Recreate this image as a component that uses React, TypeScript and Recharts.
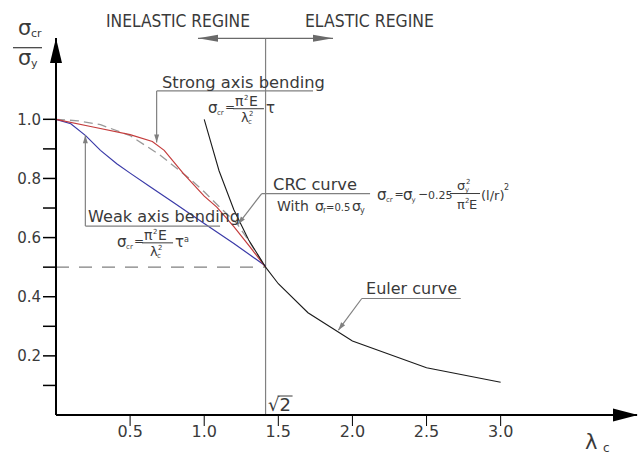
import React from 'react';
import { LineChart, Line, XAxis, YAxis, ReferenceLine, ReferenceDot } from 'recharts';

// normalised slenderness λc on x, σcr/σy on y
const xTicks = [0.5, 1.0, 1.5, 2.0, 2.5, 3.0];
const yTicks = [0.1, 0.2, 0.3, 0.4, 0.5, 0.6, 0.7, 0.8, 0.9, 1.0];

const strongLam = [0, 0.25, 0.5, 0.65, 0.73, 0.86, 1.0, 1.085, 1.2, 1.31, 1.414];
const strongVal = [1.0, 0.974, 0.948, 0.925, 0.895, 0.816, 0.74, 0.703, 0.637, 0.568, 0.5];

const weakLam = [0, 0.1, 0.2, 0.3, 0.41, 0.5, 0.635, 0.8, 1.0, 1.2, 1.414];
const weakVal = [1.0, 0.985, 0.945, 0.895, 0.85, 0.818, 0.772, 0.716, 0.648, 0.58, 0.504];

const crcLam = [0, 0.15, 0.3, 0.5, 0.7, 0.9, 1.0, 1.1, 1.22, 1.3, 1.414];
const crcVal = [1.0, 0.995, 0.982, 0.945, 0.88, 0.8, 0.755, 0.705, 0.648, 0.59, 0.5];

const eulerLam = [1.0, 1.1, 1.2, 1.3, 1.414, 1.5, 1.7, 2.0, 2.5, 3.0];
const eulerVal = [1.0, 0.826, 0.694, 0.592, 0.5, 0.444, 0.346, 0.25, 0.16, 0.111];

const toRows = (xs: number[], ys: number[]) => xs.map((lam, i) => ({ lam, v: ys[i] }));

const FONT = '"DejaVu Sans", sans-serif';
const INK = '#3a3a3a';
const GREY = '#808080';

const T = ({ x, y, s, size = 16, ...rest }: any) => (
    <text x={x} y={y} fontSize={size} fill={INK} fontFamily={FONT} {...rest}>{s}</text>
);

const arrowHead = (x: number, y: number, ang: number, len: number, half: number, fill: string) => {
    const c = Math.cos(ang), s = Math.sin(ang);
    const bx = x - c * len, by = y - s * len;
    return <polygon points={`${x},${y} ${bx - s * half},${by + c * half} ${bx + s * half},${by - c * half}`} fill={fill} />;
};

const leader = (len = 8, half = 2.5, color = GREY) => (p: any) => {
    const ang = Math.atan2(p.y2 - p.y1, p.x2 - p.x1);
    return (
        <g>
            <line x1={p.x1} y1={p.y1} x2={p.x2} y2={p.y2} stroke={color} strokeWidth={1.2} />
            {arrowHead(p.x2, p.y2, ang, len, half, color)}
        </g>
    );
};

const note = (key: string, x: number, y: number, draw: (cx: number, cy: number) => React.ReactNode) => (
    <ReferenceDot key={key} x={x} y={y} r={0} ifOverflow="visible" shape={(p: any) => <g>{draw(p.cx, p.cy)}</g>} />
);

const eulerFormula = (ox: number, oy: number, exp?: string) => (
    <g>
        <T x={ox} y={oy} s="σ" size={15} />
        <T x={ox + 9} y={oy + 2} s="cr" size={7} />
        <T x={ox + 17} y={oy - 2} s="=" size={12} />
        <T x={ox + 27} y={oy - 7} s="π" size={14} />
        <T x={ox + 36} y={oy - 13} s="2" size={7} />
        <T x={ox + 41} y={oy - 7} s="E" size={14} />
        <line x1={ox + 25} x2={ox + 56} y1={oy - 4.5} y2={oy - 4.5} stroke={INK} strokeWidth={1} />
        <T x={ox + 33} y={oy + 9} s="λ" size={13} />
        <T x={ox + 40} y={oy + 11} s="c" size={7} />
        <T x={ox + 41} y={oy + 3} s="2" size={7} />
        <T x={ox + 58} y={oy} s="τ" size={15} />
        {exp && <T x={ox + 67} y={oy - 5} s={exp} size={8} />}
    </g>
);

const crcFormula = (ox: number, oy: number) => (
    <g>
        <T x={ox} y={oy} s="σ" size={15} />
        <T x={ox + 9} y={oy + 2} s="cr" size={7} />
        <T x={ox + 17.5} y={oy - 2} s="=" size={11} />
        <T x={ox + 26} y={oy} s="σ" size={15} />
        <T x={ox + 34.5} y={oy + 2} s="y" size={7} />
        <T x={ox + 41} y={oy - 2} s="−" size={12} />
        <T x={ox + 51} y={oy - 1} s="0.25" size={11} />
        <line x1={ox + 73} x2={ox + 103} y1={oy - 6.7} y2={oy - 6.7} stroke={INK} strokeWidth={1} />
        <T x={ox + 80} y={oy - 10} s="σ" size={13} />
        <T x={ox + 88} y={oy - 8} s="y" size={7} />
        <T x={ox + 89} y={oy - 16} s="2" size={7} />
        <T x={ox + 80} y={oy + 9} s="π" size={13} />
        <T x={ox + 88} y={oy + 3} s="2" size={7} />
        <T x={ox + 92} y={oy + 9} s="E" size={13} />
        <T x={ox + 104} y={oy} s="(l/r)" size={13} />
        <T x={ox + 127} y={oy - 10} s="2" size={8} />
    </g>
);

const ColumnStrengthChart: React.FC = () => {
    return (
        <div style={{ position: 'absolute', left: 0, top: 0, background: '#fff' }}>
            <LineChart width={642} height={456} margin={{ top: 38, right: 5, bottom: 0, left: 0 }}>
                <XAxis
                    dataKey="lam"
                    type="number"
                    domain={[0, 3.92]}
                    ticks={xTicks}
                    interval={0}
                    height={41}
                    axisLine={{ stroke: '#000', strokeWidth: 2 }}
                    tickLine={{ stroke: '#000', strokeWidth: 1 }}
                    tickSize={11}
                    tickMargin={0}
                    tick={{ fontSize: 16, fill: INK, fontFamily: FONT }}
                    tickFormatter={(v: number) => v.toFixed(1)}
                />
                <YAxis
                    type="number"
                    domain={[0, 1.275]}
                    ticks={yTicks}
                    interval={0}
                    width={56}
                    axisLine={{ stroke: '#000', strokeWidth: 2 }}
                    tickLine={{ stroke: '#000', strokeWidth: 1.5 }}
                    tickSize={13}
                    tickMargin={2}
                    tick={{ fontSize: 15, fill: INK, fontFamily: FONT }}
                    tickFormatter={(v: number) => (Math.round(v * 10) % 2 === 0 ? v.toFixed(1) : '')}
                />

                <ReferenceLine x={1.414} stroke={GREY} strokeWidth={1.2} />
                <ReferenceLine segment={[{ x: 0, y: 0.5 }, { x: 1.414, y: 0.5 }]} stroke={GREY} strokeWidth={1.2} strokeDasharray="13 10" />

                <Line data={toRows(crcLam, crcVal)} dataKey="v" type="linear" stroke="#9a9a9a" strokeWidth={1.3} strokeDasharray="9 5" dot={false} isAnimationActive={false} />
                <Line data={toRows(weakLam, weakVal)} dataKey="v" type="linear" stroke="#3a3aa8" strokeWidth={1.2} dot={false} isAnimationActive={false} />
                <Line data={toRows(strongLam, strongVal)} dataKey="v" type="linear" stroke="#c43c3c" strokeWidth={1.2} dot={false} isAnimationActive={false} />
                <Line data={toRows(eulerLam, eulerVal)} dataKey="v" type="linear" stroke="#1a1a1a" strokeWidth={1.1} dot={false} isAnimationActive={false} />

                {/* regime arrows along the top */}
                <ReferenceLine segment={[{ x: 1.414, y: 1.274 }, { x: 0.958, y: 1.274 }]} shape={leader(20, 3.5, '#6a6a6a')} />
                <ReferenceLine segment={[{ x: 1.414, y: 1.274 }, { x: 1.869, y: 1.274 }]} shape={leader(20, 3.5, '#6a6a6a')} />

                {/* strong axis leader */}
                <ReferenceLine segment={[{ x: 0.679, y: 1.096 }, { x: 1.734, y: 1.096 }]} stroke={GREY} strokeWidth={1.2} />
                <ReferenceLine segment={[{ x: 0.679, y: 1.096 }, { x: 0.679, y: 0.922 }]} shape={leader()} />
                {/* weak axis leader */}
                <ReferenceLine segment={[{ x: 0.198, y: 0.639 }, { x: 1.107, y: 0.639 }]} stroke={GREY} strokeWidth={1.2} />
                <ReferenceLine segment={[{ x: 0.198, y: 0.639 }, { x: 0.198, y: 0.946 }]} shape={leader()} />
                {/* CRC leader */}
                <ReferenceLine segment={[{ x: 1.388, y: 0.749 }, { x: 2.119, y: 0.749 }]} stroke={GREY} strokeWidth={1.2} />
                <ReferenceLine segment={[{ x: 1.388, y: 0.749 }, { x: 1.228, y: 0.645 }]} shape={leader()} />
                {/* Euler leader */}
                <ReferenceLine segment={[{ x: 2.063, y: 0.394 }, { x: 2.731, y: 0.394 }]} stroke={GREY} strokeWidth={1.2} />
                <ReferenceLine segment={[{ x: 2.063, y: 0.394 }, { x: 1.905, y: 0.287 }]} shape={leader()} />

                {note('yarrow', 0, 1.275, (cx, cy) => (
                    <g>
                        <polygon points={`${cx},${cy} ${cx - 6},${cy + 25} ${cx + 6},${cy + 25}`} fill="#000" />
                        <T x={cx - 38} y={cy - 3} s="σ" size={21} />
                        <T x={cx - 25} y={cy - 1} s="cr" size={11} />
                        <line x1={cx - 43} x2={cx - 14} y1={cy + 9.7} y2={cy + 9.7} stroke={INK} strokeWidth={1.2} />
                        <T x={cx - 38} y={cy + 27} s="σ" size={21} />
                        <T x={cx - 25} y={cy + 29} s="y" size={11} />
                    </g>
                ))}
                {note('xarrow', 3.92, 0, (cx, cy) => (
                    <g>
                        <polygon points={`${cx + 1},${cy} ${cx - 24},${cy - 6.5} ${cx - 24},${cy + 6.5}`} fill="#000" />
                        <T x={cx - 52} y={cy + 34} s="λ" size={21} />
                        <T x={cx - 34} y={cy + 37} s="c" size={12} />
                    </g>
                ))}
                {note('root2', 1.414, 0, (cx, cy) => (
                    <g>
                        <T x={cx + 2.5} y={cy - 4} s="√" size={18} />
                        <T x={cx + 14} y={cy - 4} s="2" size={18} />
                        <line x1={cx + 12} x2={cx + 27} y1={cy - 19} y2={cy - 19} stroke={INK} strokeWidth={1} />
                    </g>
                ))}
                {note('regime', 1.414, 1.274, (cx, cy) => (
                    <g>
                        <T x={cx - 15.6} y={cy - 11} s="INELASTIC REGINE" size={17} textAnchor="end" textLength={144} lengthAdjust="spacingAndGlyphs" />
                        <T x={cx + 39.4} y={cy - 11} s="ELASTIC REGINE" size={17} textLength={129} lengthAdjust="spacingAndGlyphs" />
                    </g>
                ))}
                {note('strong', 0.679, 1.096, (cx, cy) => (
                    <g>
                        <T x={cx + 5.3} y={cy - 2.7} s="Strong axis bending" size={16} textLength={163} lengthAdjust="spacingAndGlyphs" />
                        {eulerFormula(cx + 51.3, cy + 22.3)}
                    </g>
                ))}
                {note('weak', 0.198, 0.639, (cx, cy) => (
                    <g>
                        <T x={cx + 2.7} y={cy - 3.7} s="Weak axis bending" size={16} textLength={152} lengthAdjust="spacingAndGlyphs" />
                        {eulerFormula(cx + 31.7, cy + 21.3, 'a')}
                    </g>
                ))}
                {note('crc', 1.388, 0.749, (cx, cy) => (
                    <g>
                        <T x={cx + 11.3} y={cy - 3.3} s="CRC curve" size={16} textLength={84} lengthAdjust="spacingAndGlyphs" />
                        <T x={cx + 15.3} y={cy + 17.7} s="With" size={14} />
                        <T x={cx + 53.3} y={cy + 17.7} s="σ" size={14} />
                        <T x={cx + 61.3} y={cy + 19.7} s="r" size={8} />
                        <T x={cx + 64.3} y={cy + 17.7} s="=0.5" size={10} />
                        <T x={cx + 90.3} y={cy + 17.7} s="σ" size={14} />
                        <T x={cx + 98.3} y={cy + 19.7} s="y" size={8} />
                        {crcFormula(cx + 115.3, cy + 6.7)}
                    </g>
                ))}
                {note('euler', 2.063, 0.394, (cx, cy) => (
                    <T x={cx + 4.3} y={cy - 4.3} s="Euler curve" size={16} textLength={91} lengthAdjust="spacingAndGlyphs" />
                ))}
            </LineChart>
        </div>
    );
};

export default ColumnStrengthChart;
